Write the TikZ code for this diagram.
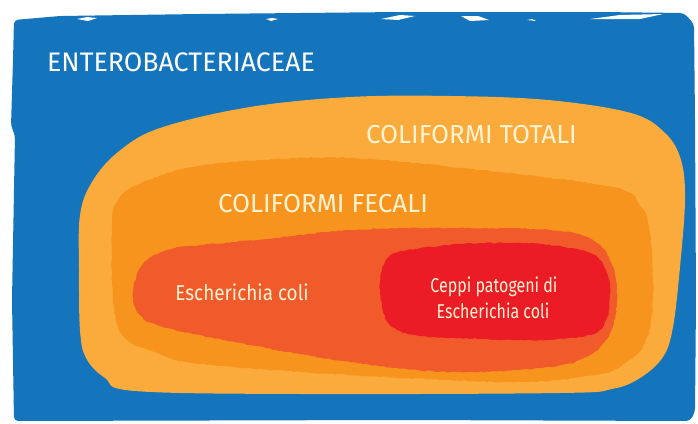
\documentclass[tikz,border=0pt]{standalone}
\usepackage{fontspec}
\setmainfont{Fira Sans}
\newfontfamily\ecolifont{Fira Sans}[FakeStretch=0.88]
\newfontfamily\ceppifont{Fira Sans}[FakeStretch=0.8]
\usetikzlibrary{decorations.pathmorphing}
\definecolor{enteroblue}{HTML}{1474BC}
\definecolor{totali}{HTML}{FBAA3C}
\definecolor{fecali}{HTML}{F7941E}
\definecolor{ecoli}{HTML}{F15A2B}
\definecolor{patogeni}{HTML}{EC1C26}
\definecolor{cream}{HTML}{FFF3D2}
\pgfmathsetseed{11}

\begin{document}
\begin{tikzpicture}[x=1pt, y=-1pt,
  titletext/.style={font=\fontsize{26}{28}\selectfont, text=cream, inner sep=0pt, anchor=base},
  lowtext/.style={font=\ecolifont\fontsize{21.5}{24}\selectfont, text=cream, inner sep=0pt, anchor=base},
  redtext/.style={lowtext, font=\ceppifont\fontsize{20}{22}\selectfont},
  rough/.style={decorate, decoration={random steps, segment length=3pt, amplitude=0.6pt}},
  streak/.style={fill=white}]
\fill[white] (0,0) rectangle (698,423);
\useasboundingbox (0,0) rectangle (698,423);
% blue field
\fill[enteroblue, rounded corners=4pt] (14,20) -- (60,16) -- (200,14) -- (400,12) -- (600,12)
  -- (684,13) -- (694,24) -- (695,120) -- (696,300) -- (695,412) -- (690,421) -- (400,420)
  -- (14,421) -- (12,300) -- (15,135) -- (11,126) -- (13,60) -- cycle;
\fill[streak] (77,19) -- (87,17) -- (97,18) -- (88,21) -- cycle;
\fill[streak] (266,19) -- (272,18) -- (278,19) -- (271,21) -- cycle;
\fill[streak] (381,19) -- (400,15) -- (415,16) -- (398,20) -- cycle;
\fill[streak] (461,16) -- (478,16) -- (489,20) -- (470,21) -- cycle;
\fill[streak] (527,20) -- (532,19) -- (536,21) -- cycle;
\fill[streak] (590,19) -- (620,15) -- (663,14) -- (640,19) -- cycle;
% nested groups
\fill[totali] plot[smooth cycle, tension=0.6] coordinates {(80,215) (92,182) (118,152) (160,128)
  (250,107) (350,97) (450,96) (548,100) (631,113) (665,133) (681,160) (685,200) (680,267)
  (673,327) (663,357) (640,378) (612,389) (560,393) (300,394) (135,391) (105,378) (86,358)
  (80,330) (79,270)};
\fill[fecali, rough] plot[smooth cycle, tension=0.6] coordinates {(112,225) (118,200) (135,186)
  (187,168) (260,160) (350,158) (481,170) (612,187) (640,205) (650,233) (653,300) (645,343)
  (625,363) (600,374) (517,382) (350,375) (200,364) (160,354) (124,337) (113,300)};
\fill[ecoli, rough] plot[smooth cycle, tension=0.6] coordinates {(133,292) (143,264) (167,250)
  (200,245) (267,239) (350,230) (450,228) (550,230) (593,240) (612,265) (617,300) (610,333)
  (590,355) (550,367) (450,372) (350,362) (250,345) (167,328) (140,315)};
\fill[patogeni, rough] plot[smooth cycle, tension=0.6] coordinates {(380,282) (385,262) (398,252)
  (440,246) (481,243) (540,244) (590,253) (606,270) (610,294) (606,320) (590,335) (540,340)
  (481,339) (420,336) (391,326) (382,305)};
% labels
\node[titletext, text=white, font=\fontsize{26.8}{28}\selectfont] (entero) at (181,71.5) {ENTEROBACTERIACEAE};
\node[titletext] (totlab) at (471.5,143) {COLIFORMI TOTALI};
\node[titletext] (feclab) at (323,212) {COLIFORMI FECALI};
\node[lowtext] (ecolilab) at (242,300) {Escherichia coli};
\node[redtext] (ceppi) at (494,292) {Ceppi patogeni di};
\node[redtext] (ceppiecoli) at (493,318) {Escherichia coli};
\end{tikzpicture}
\end{document}
